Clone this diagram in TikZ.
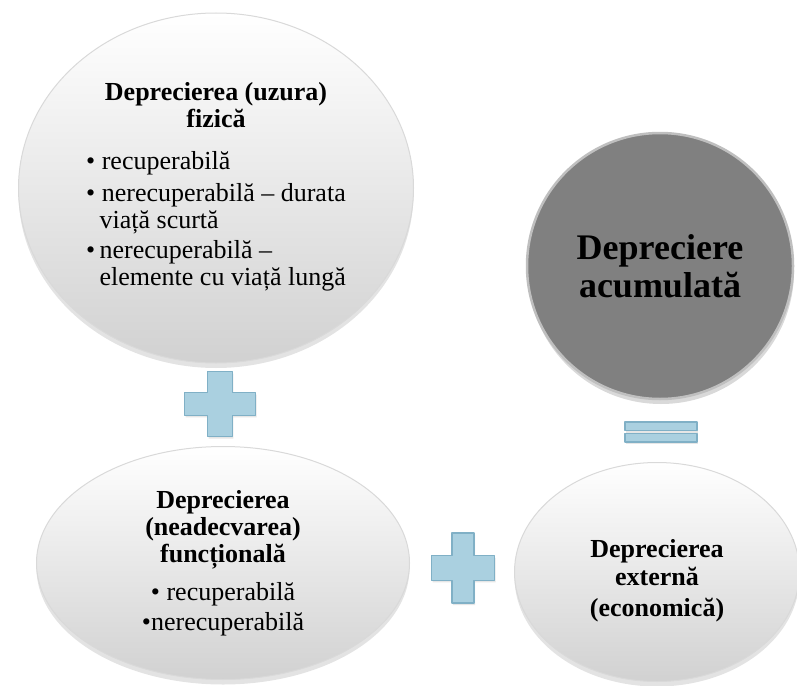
\documentclass[tikz,border=0pt]{standalone}
\usepackage{fontspec}
\setmainfont{Liberation Serif}
\usetikzlibrary{shapes.geometric,shadows}
\definecolor{semnalbastru}{RGB}{170,208,224}
\definecolor{semnmargine}{RGB}{128,176,198}
\definecolor{cercgri}{RGB}{128,128,128}

\begin{document}
\begin{tikzpicture}[x=1pt,y=-1pt]
			\tikzset{cerc/.style={ellipse, draw=gray!30, line width=1pt, top color=white, bottom color=gray!36, drop shadow={opacity=0.22,shadow xshift=0pt,shadow yshift=-5pt}, inner sep=0pt, align=center, font=\fontsize{26}{27}\selectfont},
				cercinchis/.style={circle, draw=gray!50, line width=2.5pt, fill=cercgri, drop shadow={opacity=0.3,shadow xshift=1pt,shadow yshift=-5pt}, inner sep=0pt, align=center, font=\bfseries\fontsize{36}{38}\selectfont},
				semn/.style={fill=semnalbastru, draw=semnmargine, line width=1.2pt, line join=round, drop shadow={opacity=0.2,shadow xshift=1pt,shadow yshift=-2pt}},
				semnplus/.pic={\filldraw[semn] (-1,-0.35) -- (-0.35,-0.35) -- (-0.35,-1) -- (0.35,-1) -- (0.35,-0.35) -- (1,-0.35) -- (1,0.35) -- (0.35,0.35) -- (0.35,1) -- (-0.35,1) -- (-0.35,0.35) -- (-1,0.35) -- cycle;},
				semnegal/.pic={\filldraw[semn] (-1,-1) rectangle (1,-0.15); \filldraw[semn] (-1,0.15) rectangle (1,1);}}
			\useasboundingbox (0,0) rectangle (797,685);
			\node[cerc, minimum width=395, minimum height=350] at (216,188) (fizica){{\bfseries Deprecierea (uzura)}\\{\bfseries fizică}\\[15pt]
				\begin{tabular}[t]{@{}l@{}}
					•\ recuperabilă\\[5pt]
					•\ nerecuperabilă – durata\\
					\hphantom{•}\,viață scurtă\\[3pt]
					•\,nerecuperabilă –\\
					\hphantom{•}\,elemente cu viață lungă
				\end{tabular}};
			\node[cercinchis, minimum size=266] at (660,266) (acumulata){Depreciere\\acumulată};
			\node[cerc, minimum width=373, minimum height=233] at (223,563) (functionala){{\bfseries Deprecierea}\\{\bfseries (neadecvarea)}\\{\bfseries funcțională}\\[11pt]• recuperabilă\\[3pt]•nerecuperabilă};
			\node[cerc, minimum width=285, minimum height=219, font=\bfseries\fontsize{26}{28}\selectfont] at (657,572) (externa){\rule{0pt}{36pt}Deprecierea\\externă\\[3pt](economică)};
			\coordinate (plussus) at (220,404);
			\coordinate (plusjos) at (463,568);
			\coordinate (egal) at (661,432);
			\pic[xscale=35.5,yscale=32.5] at (plussus) {semnplus};
			\pic[xscale=31.5,yscale=35] at (plusjos) {semnplus};
			\pic[xscale=36,yscale=10] at (egal) {semnegal};
	\end{tikzpicture}
\end{document}
